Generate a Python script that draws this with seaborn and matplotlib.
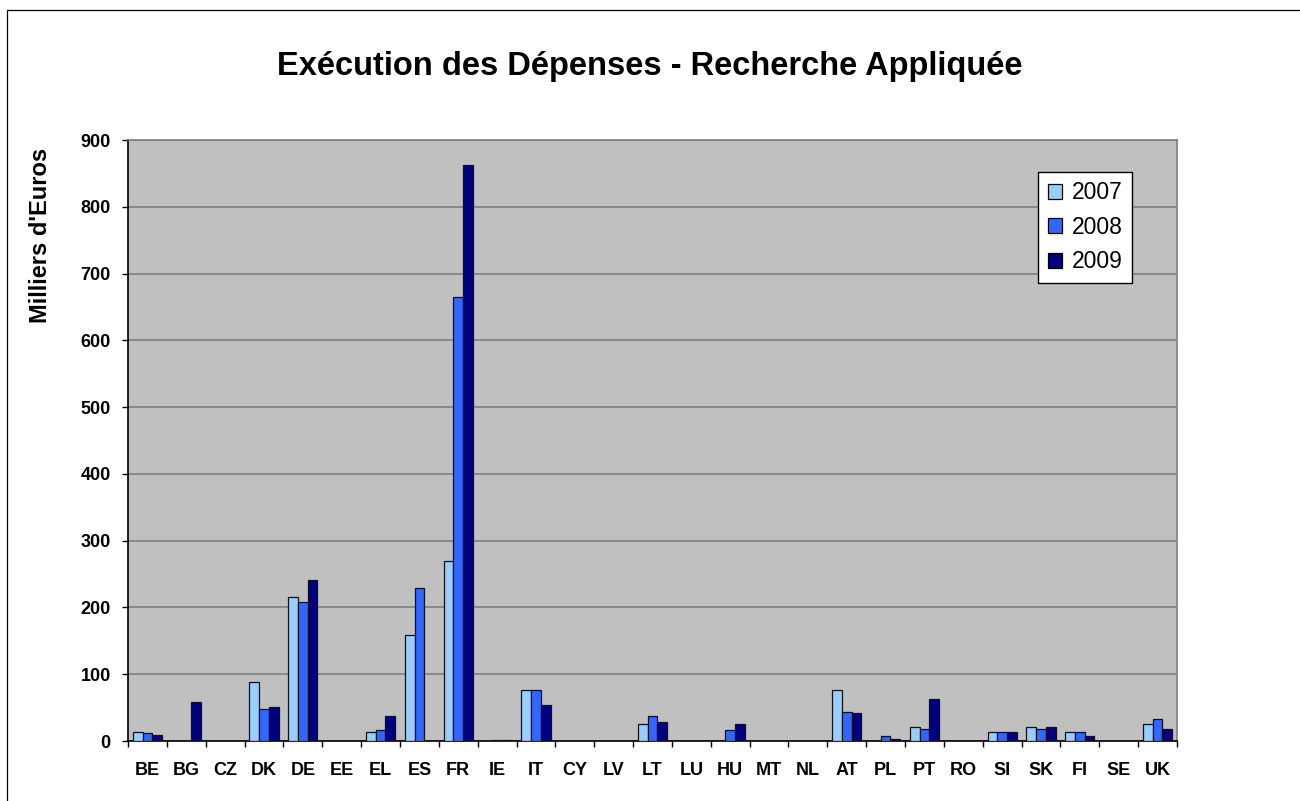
import numpy as np
import pandas as pd
import matplotlib
matplotlib.use("Agg")
import matplotlib.pyplot as plt
import matplotlib.patches as mpatches
from matplotlib.ticker import MultipleLocator, FixedLocator
import seaborn as sns

nan = np.nan
pays = ["BE", "BG", "CZ", "DK", "DE", "EE", "EL", "ES", "FR", "IE", "IT", "CY", "LV", "LT",
        "LU", "HU", "MT", "NL", "AT", "PL", "PT", "RO", "SI", "SK", "FI", "SE", "UK"]
annees = ["2007", "2008", "2009"]
v2007 = [14, nan, nan, 88.5, 215, nan, 14, 158.5, 270, nan, 77, nan, nan, 25.5, nan, nan,
         nan, nan, 77, nan, 21, nan, 14, 21, 14, nan, 25.5]
v2008 = [11.5, nan, nan, 48.5, 208, nan, 16.5, 228.5, 665, 2, 77, nan, nan, 37.5, nan, 16,
         nan, nan, 44, 7, 18, nan, 14, 18, 14, nan, 32.5]
v2009 = [9.5, 58.5, nan, 51.5, 240.5, nan, 38, nan, 863, 2, 53.5, nan, nan, 28, nan, 25.5,
         nan, nan, 42, 2.5, 63.5, nan, 14, 21, 7, nan, 18.5]
couleurs = ["#99CCFF", "#3366FF", "#000080"]

df = pd.DataFrame({
    "pays": pays * 3,
    "annee": [a for a in annees for _ in pays],
    "valeur": v2007 + v2008 + v2009,
})

sns.set_theme(style="white")
plt.rcParams["font.family"] = ["Liberation Sans", "DejaVu Sans"]
plt.rcParams["text.color"] = "black"
plt.rcParams["axes.labelcolor"] = "black"
plt.rcParams["xtick.color"] = "black"
plt.rcParams["ytick.color"] = "black"

fig = plt.figure(figsize=(13, 8.01), dpi=100)
ax = fig.add_axes([128 / 1300, 1 - 741 / 801, (1177 - 128) / 1300, (741 - 140) / 801])
ax.set_facecolor("#C0C0C0")

sns.barplot(data=df, x="pays", y="valeur", hue="annee", order=pays, hue_order=annees,
            palette=couleurs, saturation=1, width=0.75, gap=0, errorbar=None,
            edgecolor="#111111", linewidth=0.9, ax=ax, zorder=3)

ax.set_ylim(0, 900)
ax.set_xlim(-0.5, len(pays) - 0.5)
ax.yaxis.set_major_locator(MultipleLocator(100))
ax.grid(axis="y", color="#808080", linewidth=1.2, zorder=0)
ax.set_axisbelow(True)

for s in ["top", "right"]:
    ax.spines[s].set_color("#808080")
    ax.spines[s].set_linewidth(1.2)
for s in ["left", "bottom"]:
    ax.spines[s].set_color("black")
    ax.spines[s].set_linewidth(1.2)

ax.tick_params(axis="y", which="major", direction="out", length=4.5, width=1,
               color="black", left=True, pad=8, labelsize=13)
ax.tick_params(axis="x", which="major", length=0, pad=15, labelsize=13)
ax.xaxis.set_minor_locator(FixedLocator(np.arange(-0.5, len(pays), 1.0)))
ax.tick_params(axis="x", which="minor", direction="out", length=4.5, width=1,
               color="black", bottom=True)
for lbl in ax.get_xticklabels() + ax.get_yticklabels():
    lbl.set_fontweight("bold")

ax.set_xlabel("")
ax.set_ylabel("Milliers d'Euros", fontsize=17, fontweight="bold")
ax.yaxis.set_label_coords(-0.0725, 0.842)

ax.get_legend().remove()
handles = [mpatches.Patch(facecolor=c, edgecolor="black", linewidth=0.9) for c in couleurs]
leg = ax.legend(handles, annees, loc="upper right", bbox_to_anchor=(0.957, 0.947),
                borderaxespad=0, fontsize=16.5, frameon=True, fancybox=False,
                edgecolor="black", framealpha=1, handlelength=0.62, handleheight=0.62,
                handletextpad=0.4, labelspacing=0.5, borderpad=0.42)
leg.get_frame().set_linewidth(1.0)

fig.text(0.5, 1 - 66 / 801, "Exécution des Dépenses - Recherche Appliquée",
         ha="center", va="center", fontsize=23.5, fontweight="bold")

fig.patches.append(mpatches.Rectangle((7 / 1300, -0.1), 1.2, (791 / 801) + 0.1,
                                      transform=fig.transFigure, fill=False,
                                      edgecolor="black", linewidth=0.9))

fig.savefig("out.png", dpi=100)
